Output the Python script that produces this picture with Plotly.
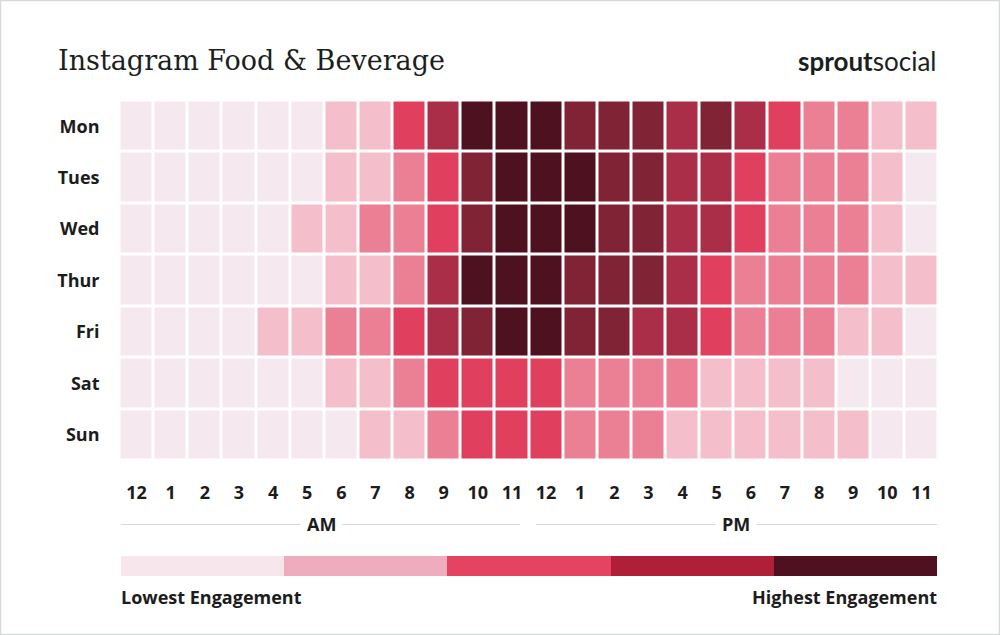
import plotly.graph_objects as go

# ---------------- data ----------------
days = ["Mon", "Tues", "Wed", "Thur", "Fri", "Sat", "Sun"]
hour_labels = ["12", "1", "2", "3", "4", "5", "6", "7", "8", "9", "10", "11",
               "12", "1", "2", "3", "4", "5", "6", "7", "8", "9", "10", "11"]

# engagement level (1 = lowest ... 7 = highest)
mon = [1, 1, 1, 1, 1, 1, 2, 2, 4, 5, 7, 7, 7, 6, 6, 6, 5, 6, 5, 4, 3, 3, 2, 2]
tue = [1, 1, 1, 1, 1, 1, 2, 2, 3, 4, 6, 7, 7, 7, 6, 6, 5, 5, 4, 3, 3, 3, 2, 1]
wed = [1, 1, 1, 1, 1, 2, 2, 3, 3, 4, 6, 7, 7, 7, 6, 6, 5, 5, 4, 3, 3, 3, 2, 1]
thu = [1, 1, 1, 1, 1, 1, 2, 2, 3, 5, 7, 7, 7, 6, 6, 6, 5, 4, 3, 3, 3, 3, 2, 2]
fri = [1, 1, 1, 1, 2, 2, 3, 3, 4, 5, 6, 7, 7, 6, 6, 5, 5, 4, 3, 3, 3, 2, 2, 1]
sat = [1, 1, 1, 1, 1, 1, 2, 2, 3, 4, 4, 4, 4, 3, 3, 3, 3, 2, 2, 2, 2, 1, 1, 1]
sun = [1, 1, 1, 1, 1, 1, 1, 2, 2, 3, 4, 4, 4, 3, 3, 3, 2, 2, 2, 2, 2, 2, 1, 1]

legend_levels = [1, 2, 3, 4, 5]

# ---------------- styles ----------------
cell_colors = ["#F5E8EE", "#F4BECA", "#EB7F93", "#E0405D", "#AB2E48", "#7F2335", "#4D111F"]
legend_colors = ["#F7E6EC", "#F0ACBF", "#E44462", "#AF1F38", "#4F111F"]


def discrete_scale(colors):
    n = len(colors)
    scale = []
    for i, c in enumerate(colors):
        scale.append([i / n, c])
        scale.append([(i + 1) / n, c])
    return scale


W, H = 1000, 635


def px_x(x):
    return x / W


def px_y(y):
    return 1 - y / H


z = [mon, tue, wed, thu, fri, sat, sun]

fig = go.Figure()
fig.add_trace(go.Heatmap(
    z=z,
    x=list(range(24)),
    y=days,
    colorscale=discrete_scale(cell_colors),
    zmin=0.5, zmax=len(cell_colors) + 0.5,
    xgap=3, ygap=3,
    showscale=False,
    hoverinfo="skip",
    xaxis="x", yaxis="y",
))

fig.add_trace(go.Heatmap(
    z=[legend_levels],
    x=list(range(len(legend_levels))),
    y=[0],
    colorscale=discrete_scale(legend_colors),
    zmin=0.5, zmax=len(legend_colors) + 0.5,
    showscale=False,
    hoverinfo="skip",
    xaxis="x2", yaxis="y2",
))

label_font = dict(family="Open Sans", size=18, color="#1c1c1c", weight="bold")

fig.update_layout(
    width=W, height=H,
    margin=dict(l=0, r=0, t=0, b=0),
    paper_bgcolor="white",
    plot_bgcolor="white",
    xaxis=dict(
        domain=[px_x(119.5), px_x(938.5)],
        range=[-0.5, 23.5],
        tickmode="array",
        tickvals=list(range(24)),
        ticktext=hour_labels,
        tickfont=label_font,
        ticks="",
        showgrid=False, zeroline=False, showline=False,
        ticklabelstandoff=19,
        fixedrange=True,
    ),
    yaxis=dict(
        domain=[px_y(460.5), px_y(100.5)],
        autorange="reversed",
        tickfont=label_font,
        ticks="",
        showgrid=False, zeroline=False, showline=False,
        ticklabelstandoff=19,
        fixedrange=True,
    ),
    xaxis2=dict(
        domain=[px_x(121), px_x(937)],
        range=[-0.5, len(legend_levels) - 0.5],
        showticklabels=False, ticks="",
        showgrid=False, zeroline=False, showline=False,
        anchor="y2",
    ),
    yaxis2=dict(
        domain=[px_y(576), px_y(556)],
        range=[-0.5, 0.5],
        showticklabels=False, ticks="",
        showgrid=False, zeroline=False, showline=False,
        anchor="x2",
    ),
    showlegend=False,
)

# AM / PM separator lines
line_style = dict(color="#D9D9D9", width=1)
fig.add_shape(type="line", xref="paper", yref="paper",
              x0=px_x(121), x1=px_x(520), y0=px_y(524.5), y1=px_y(524.5), line=line_style)
fig.add_shape(type="line", xref="paper", yref="paper",
              x0=px_x(536), x1=px_x(937), y0=px_y(524.5), y1=px_y(524.5), line=line_style)

# outer frame
fig.add_shape(type="rect", xref="paper", yref="paper",
              x0=0, x1=1, y0=0, y1=1, line=dict(color="#D6DAD9", width=2.5))

annotations = [
    dict(text="Instagram Food &amp; Beverage", x=px_x(56), y=px_y(60), xanchor="left", yanchor="middle",
         font=dict(family="DejaVu Serif", size=27, color="#1b1f1e"), showarrow=False),
    dict(text="<b>sprout</b>social", x=px_x(939), y=px_y(61), xanchor="right", yanchor="middle",
         font=dict(family="Lato", size=26, color="#1b1f1e"), showarrow=False),
    dict(text="AM", x=px_x(321), y=px_y(524), xanchor="center", yanchor="middle",
         font=label_font, bgcolor="white", borderpad=6, showarrow=False),
    dict(text="PM", x=px_x(736), y=px_y(524), xanchor="center", yanchor="middle",
         font=label_font, bgcolor="white", borderpad=6, showarrow=False),
    dict(text="Lowest Engagement", x=px_x(119), y=px_y(597), xanchor="left", yanchor="middle",
         font=label_font, showarrow=False),
    dict(text="Highest Engagement", x=px_x(939), y=px_y(597), xanchor="right", yanchor="middle",
         font=label_font, showarrow=False),
]
for a in annotations:
    a.update(xref="paper", yref="paper")
    fig.add_annotation(**a)

fig.write_html("out.html")
